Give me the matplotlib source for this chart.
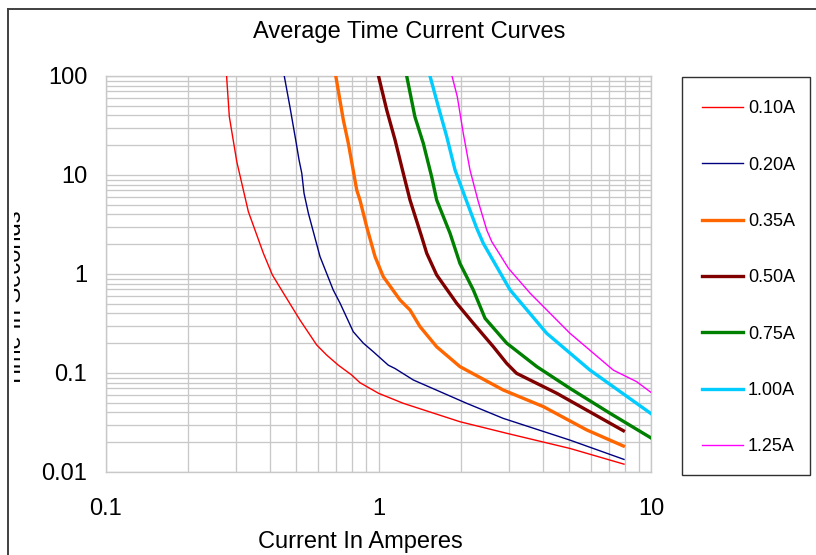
import matplotlib
matplotlib.use("Agg")
import matplotlib.pyplot as plt
from matplotlib.lines import Line2D
from matplotlib.patches import Rectangle
from matplotlib.transforms import Bbox, TransformedBbox
from matplotlib.ticker import LogLocator, FixedLocator, NullFormatter

plt.rcParams['font.family'] = ['Liberation Sans', 'DejaVu Sans']

title = "Average Time Current Curves"
xlabel = "Current In Amperes"
ylabel = "Time In Seconds"
labels = ["0.10A", "0.20A", "0.35A", "0.50A", "0.75A", "1.00A", "1.25A"]
colors = ["#FF0000", "#000080", "#FF6600", "#800000", "#008000", "#00CCFF", "#FF00FF"]
widths = [1.0, 1.0, 2.4, 2.4, 2.4, 2.4, 1.0]

x_010 = [0.277, 0.2835, 0.302, 0.333, 0.378, 0.408, 0.448, 0.515, 0.593, 0.645, 0.712, 0.797, 0.855, 1.0, 1.233, 1.99, 2.955, 5.04, 7.96]
y_010 = [100, 38.8, 13.6, 4.26, 1.62, 0.977, 0.64, 0.343, 0.192, 0.152, 0.12, 0.0955, 0.0798, 0.0624, 0.0494, 0.0322, 0.0246, 0.0173, 0.0120]

x_020 = [0.451, 0.473, 0.498, 0.511, 0.523, 0.533, 0.553, 0.61, 0.682, 0.723, 0.808, 0.88, 0.957, 1.086, 1.15, 1.342, 2.107, 2.87, 5.04, 7.96]
y_020 = [100, 49, 21.7, 14.2, 10.4, 6.53, 4.1, 1.5, 0.69, 0.506, 0.261, 0.2, 0.164, 0.12, 0.111, 0.085, 0.0494, 0.0348, 0.021, 0.0134]

x_035 = [0.697, 0.743, 0.775, 0.832, 0.855, 0.905, 0.971, 1.041, 1.2, 1.305, 1.42, 1.635, 1.99, 2.87, 4.03, 5.81, 7.92]
y_035 = [100, 35.9, 20.9, 7.05, 5.59, 3.0, 1.5, 0.94, 0.546, 0.433, 0.294, 0.184, 0.116, 0.0673, 0.0457, 0.0266, 0.0183]

x_050 = [1.0, 1.072, 1.15, 1.233, 1.305, 1.44, 1.503, 1.635, 1.936, 2.228, 2.64, 2.955, 3.21, 4.51, 7.92]
y_050 = [100, 45.3, 22.6, 10.4, 5.59, 2.38, 1.62, 0.977, 0.506, 0.318, 0.184, 0.125, 0.0993, 0.0624, 0.0261]

x_075 = [1.269, 1.36, 1.46, 1.567, 1.635, 1.83, 1.99, 2.228, 2.46, 2.955, 3.81, 5.04, 7.07, 10.05]
y_075 = [100, 38.8, 20.9, 9.6, 5.59, 2.58, 1.28, 0.69, 0.357, 0.2, 0.116, 0.07, 0.0392, 0.0219]

x_100 = [1.545, 1.658, 1.78, 1.91, 2.107, 2.293, 2.424, 2.715, 3.04, 4.14, 5.97, 10.05]
y_100 = [100, 49, 24.4, 11.2, 5.4, 2.9, 2.04, 1.185, 0.69, 0.252, 0.107, 0.0385]

x_125 = [1.861, 1.946, 2.047, 2.167, 2.323, 2.496, 2.604, 3.0, 3.6, 5.04, 7.27, 8.86, 10.1]
y_125 = [100, 61.8, 26.4, 11.2, 5.4, 2.78, 2.12, 1.14, 0.64, 0.252, 0.107, 0.0817, 0.0624]

series_x = [x_010, x_020, x_035, x_050, x_075, x_100, x_125]
series_y = [y_010, y_020, y_035, y_050, y_075, y_100, y_125]

W, H = 816, 555
fig = plt.figure(figsize=(W / 100, H / 100), dpi=100)
ax = fig.add_axes([106 / W, 1 - 472 / H, (651 - 106) / W, (472 - 76) / H])
ax.set_xscale('log')
ax.set_yscale('log')
ax.set_xlim(0.1, 10)
ax.set_ylim(0.01, 100)

handles = []
for xs, ys, c, lw, lab in zip(series_x, series_y, colors, widths, labels):
    ln, = ax.plot(xs, ys, color=c, lw=lw, label=lab, solid_joinstyle='round', zorder=3)
    handles.append(ln)

ax.xaxis.set_major_locator(FixedLocator([0.1, 1, 10]))
ax.yaxis.set_major_locator(FixedLocator([0.01, 0.1, 1, 10, 100]))
ax.xaxis.set_minor_locator(LogLocator(base=10, subs=range(2, 10), numticks=20))
ax.yaxis.set_minor_locator(LogLocator(base=10, subs=range(2, 10), numticks=20))
ax.xaxis.set_minor_formatter(NullFormatter())
ax.yaxis.set_minor_formatter(NullFormatter())
ax.set_xticklabels(["0.1", "1", "10"])
ax.set_yticklabels(["0.01", "0.1", "1", "10", "100"])
ax.tick_params(which='both', length=0)
ax.tick_params(axis='x', pad=19, labelsize=17)
ax.tick_params(axis='y', pad=13.5, labelsize=17)
ax.grid(True, which='both', color='#c8c8c8', lw=0.95, zorder=0)
ax.set_axisbelow(True)
for sp in ax.spines.values():
    sp.set_color('#c8c8c8')
    sp.set_linewidth(1.0)

fig.text(409 / W, 1 - 32 / H, title, ha='center', va='center', fontsize=17)
fig.text(360 / W, 1 - 542 / H, xlabel, ha='center', va='center', fontsize=17)
yl = fig.text(20.7 / W, 1 - 299 / H, ylabel, rotation=90, rotation_mode='anchor',
              ha='center', va='baseline', fontsize=17)
yl.set_clip_box(TransformedBbox(Bbox.from_extents(13.5 / W, 0, 1, 1), fig.transFigure))
yl.set_clip_on(True)

# outer chart border (partially visible)
fig.add_artist(Line2D([7.5 / W, 7.5 / W], [0, 1 - 9 / H], transform=fig.transFigure,
                      color='#404040', lw=1.4))
fig.add_artist(Line2D([7.5 / W, 1], [1 - 9 / H, 1 - 9 / H], transform=fig.transFigure,
                      color='#404040', lw=1.4))

# legend box
fig.add_artist(Rectangle((681.7 / W, 1 - 475 / H), (810 - 681.7) / W, (475 - 77) / H,
                         transform=fig.transFigure, fill=False, edgecolor='#303030', lw=1.0))
leg = ax.legend(handles=handles, labels=labels, loc='upper left',
                bbox_to_anchor=(702 / W, 1 - 100.2 / H), bbox_transform=fig.transFigure,
                frameon=False, fontsize=13, handlelength=2.27, handletextpad=0.28,
                labelspacing=2.18, borderpad=0, borderaxespad=0)

fig.savefig("out.png", dpi=100)
